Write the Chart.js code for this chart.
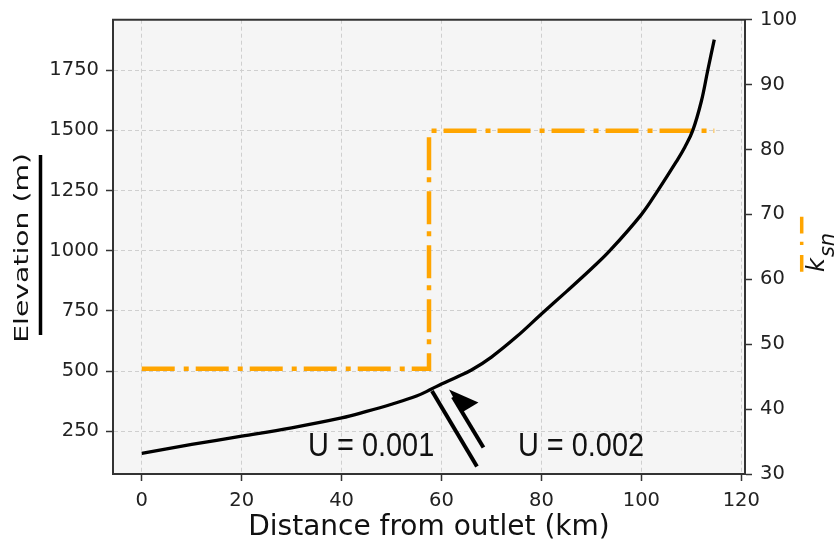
<!DOCTYPE html>
<html>
<head>
<meta charset="utf-8">
<style>
  html, body { margin: 0; padding: 0; background: #fff; }
  #wrap { position: relative; width: 837px; height: 546px; }
</style>
<script src="https://cdn.jsdelivr.net/npm/chart.js@4.4.1/dist/chart.umd.min.js"></script>
</head>
<body>
<div id="wrap"><canvas id="profile-chart"></canvas></div>
<script>
// river long profile
const distanceKm = [0, 10, 20, 30, 40, 45, 50, 55, 58, 60, 63, 66, 70, 75, 80, 85, 90, 93.7, 100, 103.3, 107, 108.7, 110.3, 112, 113.3, 114.6];
const elevationM = [158, 195, 229, 264, 305, 332, 362, 396, 425, 446, 474, 504, 558, 642, 737, 830, 925, 1000, 1150, 1250, 1370, 1430, 1500, 1620, 1750, 1877];

// steepness index, stepped at the knickpoint
const ksnKm = [0, 57.5, 57.5, 114.6];
const ksnValues = [46.2, 46.2, 82.9, 82.9];

const distanceTicks = [0, 20, 40, 60, 80, 100, 120];
const elevationTicks = [250, 500, 750, 1000, 1250, 1500, 1750];
const ksnTicks = [30, 40, 50, 60, 70, 80, 90, 100];

// fault sketch + uplift labels, in data units (km, m)
const faultLines = [
  [[58.1, 417], [67.1, 103]],
  [[68.4, 182], [62.3, 392]]
];
const harpoon = [[61.5, 423], [67.4, 369], [64.0, 327]];
const upliftLabels = [
  { text: "U = 0.001", x: 33.3, y: 146 },
  { text: "U = 0.002", x: 75.3, y: 146 }
];

const tickFont = { family: "'DejaVu Sans', sans-serif", size: 19.5 };

const decorations = {
  id: "decorations",
  beforeDraw(chart) {
    const { ctx, chartArea: a } = chart;
    ctx.save();
    ctx.fillStyle = "#f5f5f5";
    ctx.fillRect(a.left, a.top, a.width, a.height);
    ctx.restore();
  },
  afterDatasetsDraw(chart) {
    const { ctx, scales } = chart;
    const px = v => scales.x.getPixelForValue(v);
    const py = v => scales.y.getPixelForValue(v);
    ctx.save();
    ctx.strokeStyle = "#000";
    ctx.lineWidth = 4;
    faultLines.forEach(([p, q]) => {
      ctx.beginPath();
      ctx.moveTo(px(p[0]), py(p[1]));
      ctx.lineTo(px(q[0]), py(q[1]));
      ctx.stroke();
    });
    ctx.fillStyle = "#000";
    ctx.beginPath();
    harpoon.forEach((p, i) => (i ? ctx.lineTo(px(p[0]), py(p[1])) : ctx.moveTo(px(p[0]), py(p[1]))));
    ctx.closePath();
    ctx.fill();

    // narrow sans like the original labels
    ctx.fillStyle = "#111";
    ctx.font = "34px 'Liberation Sans', Arial, sans-serif";
    ctx.textAlign = "left";
    ctx.textBaseline = "alphabetic";
    upliftLabels.forEach(l => {
      ctx.save();
      ctx.translate(px(l.x), py(l.y));
      ctx.scale(0.85, 1);
      ctx.fillText(l.text, 0, 0);
      ctx.restore();
    });
    ctx.restore();
  },
  afterDraw(chart) {
    const { ctx, chartArea: a } = chart;
    ctx.save();
    // top edge of the frame
    ctx.strokeStyle = "#333";
    ctx.lineWidth = 2;
    ctx.beginPath();
    ctx.moveTo(a.left - 1, a.top);
    ctx.lineTo(a.right + 1, a.top);
    ctx.stroke();

    // left title, stretched like in the figure
    const cy = (a.top + a.bottom) / 2;
    ctx.fillStyle = "#111";
    ctx.font = "19.5px 'DejaVu Sans', sans-serif";
    const w = ctx.measureText("Elevation (m)").width;
    ctx.save();
    ctx.translate(28, cy + 1);
    ctx.rotate(-Math.PI / 2);
    ctx.scale(190 / w, 1);
    ctx.textAlign = "center";
    ctx.textBaseline = "alphabetic";
    ctx.fillText("Elevation (m)", 0, 0);
    ctx.restore();
    // black bar = elevation line key
    ctx.strokeStyle = "#000";
    ctx.lineWidth = 3.5;
    ctx.beginPath();
    ctx.moveTo(40.5, 155);
    ctx.lineTo(40.5, 335);
    ctx.stroke();

    // right title k_sn
    ctx.save();
    ctx.translate(824, 272);
    ctx.rotate(-Math.PI / 2);
    ctx.textAlign = "left";
    ctx.textBaseline = "alphabetic";
    ctx.font = "italic 24px 'DejaVu Sans', sans-serif";
    ctx.fillText("k", 0, 0);
    const kw = ctx.measureText("k").width;
    ctx.font = "italic 21px 'DejaVu Sans', sans-serif";
    ctx.fillText("sn", kw + 1, 10);
    ctx.restore();
    // orange dash-dot key
    ctx.strokeStyle = "#ffa500";
    ctx.lineWidth = 3.5;
    ctx.setLineDash([16.7, 8.4, 3.3, 10]);
    ctx.beginPath();
    ctx.moveTo(801.7, 216.7);
    ctx.lineTo(801.7, 272);
    ctx.stroke();
    ctx.restore();
  }
};

const plainTick = v => String(v);

const ctx = document.getElementById("profile-chart").getContext("2d");
new Chart(ctx, {
  type: "line",
  data: {
    datasets: [
      {
        label: "Elevation",
        data: distanceKm.map((d, i) => ({ x: d, y: elevationM[i] })),
        yAxisID: "y",
        borderColor: "#000",
        borderWidth: 3.3,
        pointRadius: 0,
        tension: 0.4
      },
      {
        label: "ksn",
        data: ksnKm.map((d, i) => ({ x: d, y: ksnValues[i] })),
        yAxisID: "y2",
        borderColor: "#ffa500",
        borderWidth: 4.5,
        borderDash: [33, 9, 5, 7],
        borderCapStyle: "butt",
        pointRadius: 0,
        tension: 0
      }
    ]
  },
  options: {
    responsive: true,
    maintainAspectRatio: false,
    animation: false,
    layout: { padding: { top: 13, left: 0, right: 0, bottom: 0 } },
    plugins: { legend: { display: false }, tooltip: { enabled: false } },
    scales: {
      x: {
        type: "linear",
        min: -5.75,
        max: 120.75,
        afterBuildTicks: axis => { axis.ticks = distanceTicks.map(v => ({ value: v })); },
        afterFit: s => { s.height = 72; },
        grid: { color: "#cfcfcf", lineWidth: 1, tickColor: "#333", tickLength: 7, tickWidth: 1.5 },
        border: { color: "#333", width: 2, dash: [4, 3] },
        ticks: { font: tickFont, color: "#222", padding: 8, maxRotation: 0, callback: plainTick },
        title: {
          display: true,
          text: "Distance from outlet (km)",
          font: { family: "'DejaVu Sans', sans-serif", size: 28 },
          color: "#111",
          padding: { top: 0, bottom: 1 }
        }
      },
      y: {
        type: "linear",
        position: "left",
        min: 72,
        max: 1960,
        afterBuildTicks: axis => { axis.ticks = elevationTicks.map(v => ({ value: v })); },
        afterFit: s => { s.width = 113; },
        grid: { color: "#cfcfcf", lineWidth: 1, tickColor: "#333", tickLength: 7, tickWidth: 1.5 },
        border: { color: "#333", width: 2, dash: [4, 3] },
        ticks: { font: tickFont, color: "#222", padding: 7, callback: plainTick }
      },
      y2: {
        type: "linear",
        position: "right",
        min: 30,
        max: 100,
        afterBuildTicks: axis => { axis.ticks = ksnTicks.map(v => ({ value: v })); },
        afterFit: s => { s.width = 92; },
        grid: { drawOnChartArea: false, tickColor: "#333", tickLength: 7, tickWidth: 1.5 },
        border: { color: "#333", width: 2 },
        ticks: { font: tickFont, color: "#222", padding: 8, callback: plainTick }
      }
    }
  },
  plugins: [decorations]
});
</script>
</body>
</html>
